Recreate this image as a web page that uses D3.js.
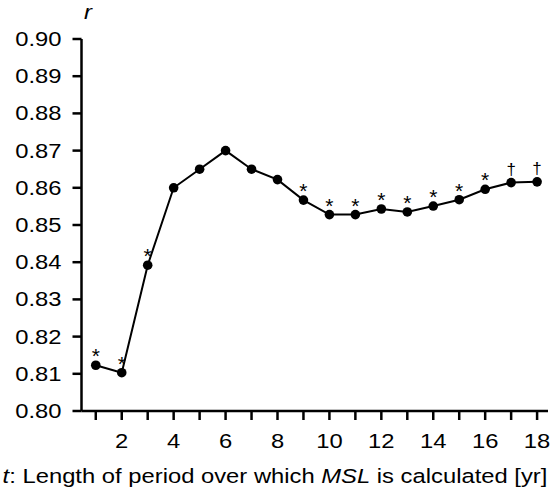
<!DOCTYPE html>
<html lang="en">
    <head>
        <title></title>
        <meta charset="UTF-8">
        <script src="https://d3js.org/d3.v7.min.js"></script>
    </head>
    <style>
        body { margin: 0; background: #fff; }
        text { font-family: "Liberation Sans", Arial, sans-serif; fill: #000; }
    </style>
    <body>
        <script>
            // data
            var periods = [1, 2, 3, 4, 5, 6, 7, 8, 9, 10, 11, 12, 13, 14, 15, 16, 17, 18];
            var rValues = [0.8123, 0.8103, 0.8392, 0.8600, 0.8650, 0.8700, 0.8650, 0.8622, 0.8567,
                           0.8528, 0.8528, 0.8543, 0.8535, 0.8551, 0.8568, 0.8596, 0.8614, 0.8616];
            var marks = ["*", "*", "*", "", "", "", "", "", "*", "*", "*", "*", "*", "*", "*", "*", "\u2020", "\u2020"];
            var yTicks = [0.80, 0.81, 0.82, 0.83, 0.84, 0.85, 0.86, 0.87, 0.88, 0.89, 0.90];
            var xTickLabels = [2, 4, 6, 8, 10, 12, 14, 16, 18];

            var width = 550, height = 494;
            var fs = 19.5, sx = 1.22;   // text looks stretched horizontally

            var svg = d3.select("body").append("svg")
                .attr("width", width)
                .attr("height", height);

            var x = d3.scaleLinear().domain([0.45, 18.42]).range([81.5, 548]);
            var y = d3.scaleLinear().domain([0.80, 0.90]).range([411, 39]);

            // y axis
            var yAxis = svg.append("g").attr("transform", "translate(" + x(0.45) + ",0)");
            yAxis.append("line")
                .attr("y1", y(0.90)).attr("y2", y(0.80))
                .attr("stroke", "#000").attr("stroke-width", 2.5);
            yAxis.selectAll(".yt").data(yTicks).enter().append("line")
                .attr("x1", -9).attr("x2", 0)
                .attr("y1", function(d){ return y(d); })
                .attr("y2", function(d){ return y(d); })
                .attr("stroke", "#000").attr("stroke-width", 2.5);
            yAxis.selectAll(".yl").data(yTicks).enter().append("text")
                .attr("text-anchor", "end")
                .attr("font-size", fs)
                .attr("transform", function(d){ return "translate(-20," + (y(d) + 7) + ") scale(" + sx + ",1)"; })
                .text(function(d){ return d3.format(".2f")(d); });

            // x axis
            var xAxis = svg.append("g").attr("transform", "translate(0," + y(0.80) + ")");
            xAxis.append("line")
                .attr("x1", x(0.45)).attr("x2", x(18.42))
                .attr("stroke", "#000").attr("stroke-width", 2.5);
            xAxis.selectAll(".xt").data(periods).enter().append("line")
                .attr("x1", function(d){ return x(d); })
                .attr("x2", function(d){ return x(d); })
                .attr("y1", 0).attr("y2", 9)
                .attr("stroke", "#000").attr("stroke-width", 2.5);
            xAxis.selectAll(".xl").data(xTickLabels).enter().append("text")
                .attr("text-anchor", "middle")
                .attr("font-size", fs)
                .attr("transform", function(d){ return "translate(" + x(d) + ",37) scale(" + sx + ",1)"; })
                .text(function(d){ return d; });

            // axis titles
            svg.append("text")
                .attr("font-size", fs)
                .attr("font-style", "italic")
                .attr("transform", "translate(84,19) scale(" + sx + ",1)")
                .text("r");

            var xt = svg.append("text")
                .attr("font-size", fs)
                .attr("text-anchor", "middle")
                .attr("transform", "translate(275,483) scale(" + sx + ",1)");
            xt.append("tspan").attr("font-style", "italic").text("t");
            xt.append("tspan").text(": Length of period over which ");
            xt.append("tspan").attr("font-style", "italic").text("MSL");
            xt.append("tspan").text(" is calculated [yr]");

            // line + points
            var pts = periods.map(function(p, i){ return {p: p, r: rValues[i], m: marks[i]}; });
            var line = d3.line().x(function(d){ return x(d.p); }).y(function(d){ return y(d.r); });

            svg.append("path")
                .datum(pts)
                .attr("d", line)
                .attr("fill", "none")
                .attr("stroke", "#000")
                .attr("stroke-width", 2);

            svg.selectAll(".pt").data(pts).enter().append("circle")
                .attr("cx", function(d){ return x(d.p); })
                .attr("cy", function(d){ return y(d.r); })
                .attr("r", 4.8)
                .attr("fill", "#000");

            svg.selectAll(".mk").data(pts.filter(function(d){ return d.m; })).enter().append("text")
                .attr("text-anchor", "middle")
                .attr("font-size", function(d){ return d.m === "*" ? 21 : 17; })
                .attr("x", function(d){ return x(d.p); })
                .attr("y", function(d){ return y(d.r) + (d.m === "*" ? -2 : -8); })
                .text(function(d){ return d.m; });
        </script>
    </body>
</html>
